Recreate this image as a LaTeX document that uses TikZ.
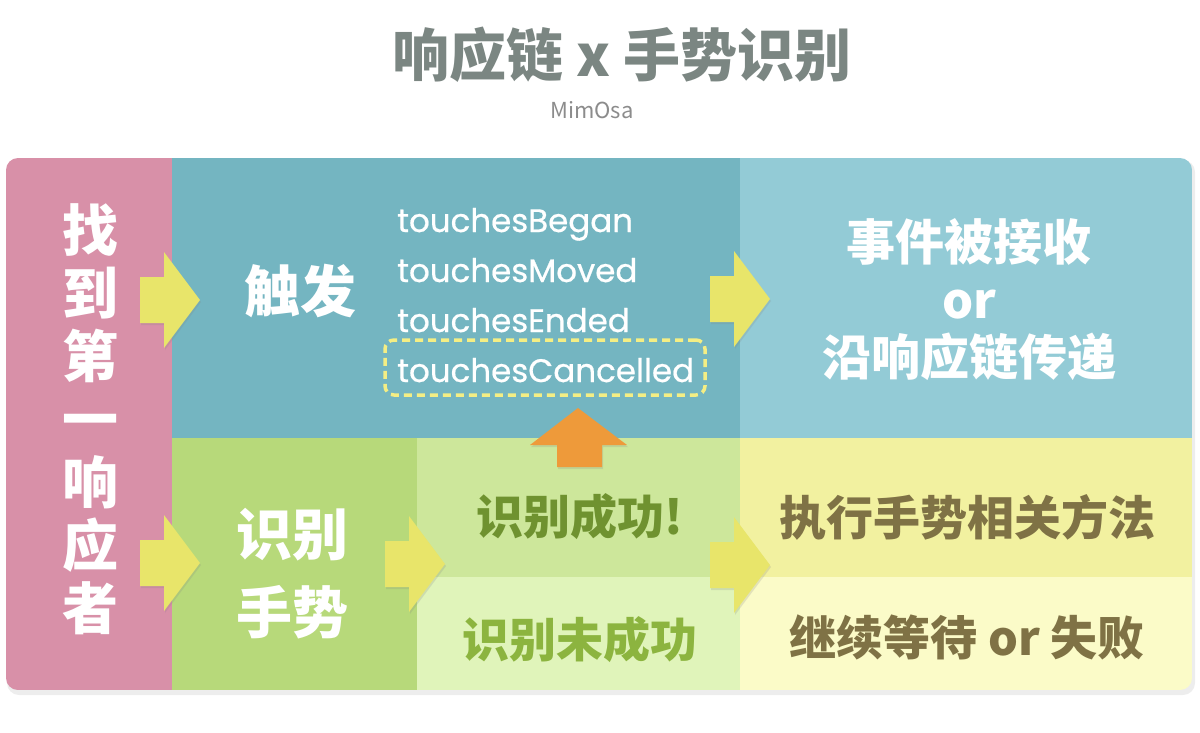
\documentclass[tikz,border=0pt]{standalone}
\usepackage{fontspec}
\newfontfamily\cjk{Noto Sans CJK SC}
\newfontfamily\geo{Poppins}[FakeBold=0.6]
\usetikzlibrary{shadows}
\definecolor{titlegray}{HTML}{7B8682}
\definecolor{authgray}{HTML}{8C8C8C}
\definecolor{pinkc}{HTML}{D890A8}
\definecolor{tealc}{HTML}{74B5C1}
\definecolor{lbluec}{HTML}{93CBD6}
\definecolor{greenc}{HTML}{B7D97A}
\definecolor{lgreenc}{HTML}{CDE79B}
\definecolor{llgreenc}{HTML}{E0F4BA}
\definecolor{yellc}{HTML}{F2F1A0}
\definecolor{pyellc}{HTML}{FBFBC8}
\definecolor{arrowy}{HTML}{E8E56A}
\definecolor{arrowo}{HTML}{EE9A3A}
\definecolor{dashy}{HTML}{F4EE84}
\definecolor{dgreentext}{HTML}{6F9230}
\definecolor{lgreentext}{HTML}{8CB43F}
\definecolor{browntext}{HTML}{7F7245}
\newcommand\yarr[2]{%
  \fill[yarrowstyle] (#1,#2-23) -- (#1+24,#2-23) -- (#1+24,#2-48) -- (#1+60,#2)
    -- (#1+24,#2+48) -- (#1+24,#2+23) -- (#1,#2+23) -- cycle;}
\begin{document}
\begin{tikzpicture}[x=1pt,y=-1pt,
  yarrowstyle/.style={fill=arrowy, drop shadow={opacity=0.2, shadow xshift=1pt, shadow yshift=-2pt}},
  oarrowstyle/.style={fill=arrowo, drop shadow={opacity=0.2, shadow xshift=1pt, shadow yshift=-2pt}},
  bigw/.style={text=white, font=\cjk\bfseries\fontsize{56}{63}\selectfont, align=center, inner sep=0pt},
  midw/.style={text=white, font=\cjk\bfseries\fontsize{49}{57.5}\selectfont, align=center, inner sep=0pt},
  touch/.style={text=white, font=\geo\fontsize{32.5}{36}\selectfont, anchor=base west, inner sep=0pt},
  gtext/.style={font=\cjk\bfseries\fontsize{47}{50}\selectfont, inner sep=0pt},
  dashbox/.style={draw=dashy, line width=3.5pt, dash pattern=on 8pt off 5pt, rounded corners=9pt,
     minimum width=320pt, minimum height=55pt, inner sep=0pt}
]
\useasboundingbox (0,0) rectangle (1200,732);
\fill[white] (0,0) rectangle (1200,732);
% outer shadow
\fill[black, opacity=0.07, rounded corners=12pt] (7,160) rectangle (1195,695);
\begin{scope}
  \clip[rounded corners=12pt] (6,158) rectangle (1192,690);
  \fill[pinkc] (6,158) rectangle (172,690);
  \fill[tealc] (172,158) rectangle (740,438);
  \fill[lbluec] (740,158) rectangle (1192,438);
  \fill[greenc] (172,438) rectangle (417,690);
  \fill[lgreenc] (417,438) rectangle (740,577);
  \fill[llgreenc] (417,577) rectangle (740,690);
  \fill[yellc] (740,438) rectangle (1192,577);
  \fill[pyellc] (740,577) rectangle (1192,690);
\end{scope}
% title
\node[text=titlegray, font=\cjk\bfseries\fontsize{57}{60}\selectfont, inner sep=0pt] (title) at (622,55) {响应链 x 手势识别};
\node[text=authgray, font=\cjk\fontsize{22}{24}\selectfont, inner sep=0pt] (author) at (592,110) {MimOsa};
% left column
\node[bigw] (finder) at (90,419) {找\\到\\第\\一\\响\\应\\者};
% trigger
\node[bigw] (trigger) at (300,291) {触发};
\node[touch] (tb) at (397,232) {touchesBegan};
\node[touch] (tm) at (397,282) {touchesMoved};
\node[touch] (te) at (397,332) {touchesEnded};
\node[touch] (tc) at (397,382) {touchesCancelled};
\node[dashbox] (tcbox) at (545,367.5) {};
% right top
\node[midw] (received) at (969,300) {事件被接收\\or\\沿响应链传递};
% gesture
\node[bigw, font=\cjk\bfseries\fontsize{56}{78}\selectfont] (gesture) at (292,574) {识别\\手势};
\node[gtext, text=dgreentext] (succ) at (580,517) {识别成功!};
\node[gtext, text=lgreentext] (fail) at (580,640) {识别未成功};
\node[gtext, text=browntext] (exec) at (967,517) {执行手势相关方法};
\node[gtext, text=browntext] (wait) at (967,637) {继续等待 or 失败};
% arrows
\yarr{140}{300}
\yarr{140}{563}
\yarr{385}{564}
\yarr{710}{565}
\yarr{710}{299}
\fill[oarrowstyle] (557,467) -- (557,445) -- (530,445) -- (578,408) -- (627,445) -- (602,445) -- (602,467) -- cycle;
\end{tikzpicture}
\end{document}
